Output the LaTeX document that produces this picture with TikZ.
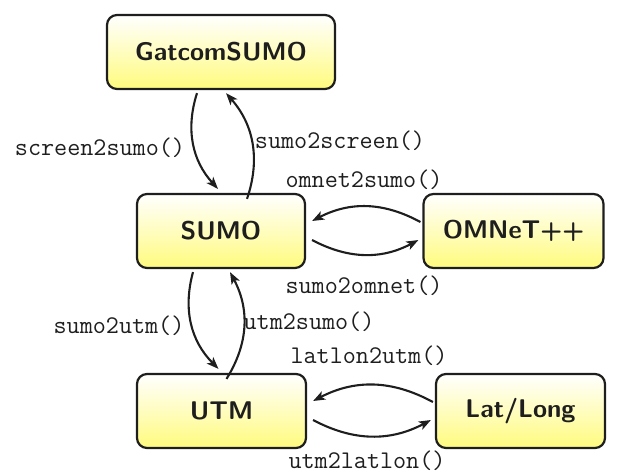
\documentclass[tikz,border=0pt]{standalone}
\usetikzlibrary{arrows.meta}
\definecolor{boxyellow}{RGB}{255,251,125}
\definecolor{boxline}{RGB}{30,30,30}
\tikzset{
  box/.style={draw=boxline, line width=2.2pt, rounded corners=10pt, top color=white, bottom color=boxyellow,
    minimum height=74pt, inner sep=0pt, font=\fontsize{25.6}{30}\selectfont\sffamily\bfseries, text=boxline},
  conv/.style={line width=2.1pt, draw=boxline, -{Stealth[length=12pt,width=9pt,inset=3pt]}},
  lbl/.style={font=\fontsize{25.4}{28}\selectfont\ttfamily, text=boxline, inner sep=0pt}
}
\begin{document}
\begin{tikzpicture}[x=1pt,y=1pt]
\useasboundingbox (0,0) rectangle (621,-475);
\node[box, minimum width=228pt] (g) at (221,-52) {GatcomSUMO};
\node[box, minimum width=168pt] (s) at (221,-231) {SUMO};
\node[box, minimum width=180pt] (o) at (513.5,-231) {OMNeT++};
\node[box, minimum width=169pt] (u) at (221.5,-411) {UTM};
\node[box, minimum width=169pt] (l) at (520.5,-411) {Lat/Long};

\draw[conv] ([xshift=-24pt,yshift=-3pt]g.south) to[bend right=30] ([xshift=-3pt,yshift=4pt]s.north);
\draw[conv] ([xshift=26pt,yshift=-6pt]s.north) to[bend right=30] ([xshift=5pt,yshift=-3pt]g.south);
\draw[conv] ([xshift=-2pt,yshift=9pt]o.west) to[bend right=28] ([xshift=6pt,yshift=10pt]s.east);
\draw[conv] ([xshift=6pt,yshift=-9pt]s.east) to[bend right=28] ([xshift=-4pt,yshift=-9pt]o.west);

\draw[conv] ([xshift=-28pt,yshift=-3pt]s.south) to[bend right=30] ([xshift=-3pt,yshift=4pt]u.north);
\draw[conv] ([xshift=5pt,yshift=-6pt]u.north) to[bend right=30] ([xshift=9pt,yshift=-3pt]s.south);
\draw[conv] ([xshift=-2pt,yshift=9pt]l.west) to[bend right=28] ([xshift=6pt,yshift=10pt]u.east);
\draw[conv] ([xshift=6pt,yshift=-9pt]u.east) to[bend right=28] ([xshift=-4pt,yshift=-9pt]l.west);

\node[lbl] (t1) at (100,-148) {screen2sumo()};
\node[lbl] (t2) at (340,-141) {sumo2screen()};
\node[lbl] (t3) at (364,-180) {omnet2sumo()};
\node[lbl] (t4) at (364,-286) {sumo2omnet()};
\node[lbl] (t5) at (119,-326) {sumo2utm()};
\node[lbl] (t6) at (309,-322) {utm2sumo()};
\node[lbl] (t7) at (369,-356) {latlon2utm()};
\node[lbl] (t8) at (367,-461) {utm2latlon()};
\end{tikzpicture}
\end{document}
